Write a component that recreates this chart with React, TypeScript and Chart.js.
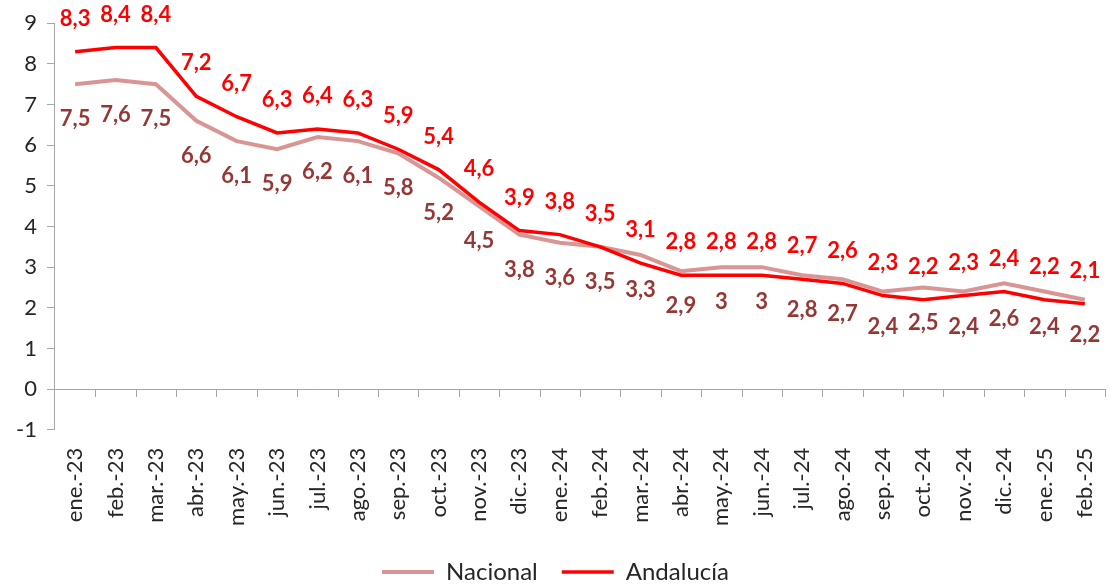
import React, { useEffect, useRef } from "react";
import { Chart, registerables } from "chart.js";

Chart.register(...registerables);

const categories = [
  "ene.-23", "feb.-23", "mar.-23", "abr.-23", "may.-23", "jun.-23", "jul.-23", "ago.-23",
  "sep.-23", "oct.-23", "nov.-23", "dic.-23", "ene.-24", "feb.-24", "mar.-24", "abr.-24",
  "may.-24", "jun.-24", "jul.-24", "ago.-24", "sep.-24", "oct.-24", "nov.-24", "dic.-24",
  "ene.-25", "feb.-25",
];

const nacional = [7.5, 7.6, 7.5, 6.6, 6.1, 5.9, 6.2, 6.1, 5.8, 5.2, 4.5, 3.8, 3.6, 3.5, 3.3, 2.9, 3, 3, 2.8, 2.7, 2.4, 2.5, 2.4, 2.6, 2.4, 2.2];
const andalucia = [8.3, 8.4, 8.4, 7.2, 6.7, 6.3, 6.4, 6.3, 5.9, 5.4, 4.6, 3.9, 3.8, 3.5, 3.1, 2.8, 2.8, 2.8, 2.7, 2.6, 2.3, 2.2, 2.3, 2.4, 2.2, 2.1];

const yTicks = [-1, 0, 1, 2, 3, 4, 5, 6, 7, 8, 9];

const FONT = "Lato, 'Open Sans', sans-serif";
const AXIS_GRAY = "#a6a6a6";
const TEXT = "#262626";

const labelPlugin = {
  id: "valueLabels",
  afterDatasetsDraw(chart: any) {
    const ctx = chart.ctx;
    ctx.save();
    ctx.font = `bold 22px ${FONT}`;
    ctx.textAlign = "center";
    ctx.textBaseline = "middle";
    chart.data.datasets.forEach((ds: any, di: number) => {
      const meta = chart.getDatasetMeta(di);
      const above = ds.labelPos === "above";
      ctx.fillStyle = ds.labelColor;
      meta.data.forEach((pt: any, i: number) => {
        const txt = String(ds.data[i]).replace(".", ",");
        ctx.fillText(txt, pt.x, pt.y + (above ? -33 : 35));
      });
    });
    ctx.restore();
  },
};

const zeroTicksPlugin = {
  id: "zeroTicks",
  afterDraw(chart: any) {
    const xs = chart.scales.x;
    const ys = chart.scales.y;
    const y0 = Math.round(ys.getPixelForValue(0));
    const ctx = chart.ctx;
    ctx.save();
    ctx.strokeStyle = AXIS_GRAY;
    ctx.lineWidth = 1;
    for (let i = 1; i <= categories.length; i++) {
      const x = Math.round(xs.getPixelForValue(i - 0.5)) + 0.5;
      ctx.beginPath();
      ctx.moveTo(x, y0);
      ctx.lineTo(x, y0 + 8);
      ctx.stroke();
    }
    ctx.restore();
  },
};

export default function App() {
  const ref = useRef<HTMLCanvasElement>(null);

  useEffect(() => {
    if (!ref.current) return;
    const chart = new Chart(ref.current, {
      type: "line",
      data: {
        labels: categories,
        datasets: [
          {
            label: "Nacional",
            data: nacional,
            borderColor: "#d99594",
            backgroundColor: "#d99594",
            borderWidth: 4,
            pointRadius: 0,
            tension: 0,
            order: 1,
            labelColor: "#953735",
            labelPos: "below",
          } as any,
          {
            label: "Andalucía",
            data: andalucia,
            borderColor: "#ff0000",
            backgroundColor: "#ff0000",
            borderWidth: 3.5,
            pointRadius: 0,
            tension: 0,
            order: 0,
            labelColor: "#ff0000",
            labelPos: "above",
          } as any,
        ],
      },
      options: {
        animation: false,
        responsive: true,
        maintainAspectRatio: false,
        layout: { padding: { top: 17, left: 6, right: 5, bottom: -10 } },
        plugins: {
          tooltip: { enabled: false },
          legend: {
            position: "bottom",
            labels: {
              usePointStyle: true,
              pointStyle: "line",
              pointStyleWidth: 52,
              padding: 24,
              color: TEXT,
              font: { family: FONT, size: 24 },
              sort: (a: any, b: any) => a.datasetIndex - b.datasetIndex,
            },
          },
        },
        scales: {
          x: {
            offset: true,
            border: { display: false },
            grid: { display: false },
            afterFit: (axis: any) => {
              axis.paddingRight = 0;
              axis.paddingLeft = 0;
            },
            ticks: {
              minRotation: 90,
              maxRotation: 90,
              autoSkip: false,
              padding: 10,
              color: TEXT,
              font: { family: FONT, size: 22 },
            },
          },
          y: {
            min: -1,
            max: 9,
            afterBuildTicks: (axis: any) => {
              axis.ticks = yTicks.map((v) => ({ value: v }));
            },
            border: { display: true, color: AXIS_GRAY, width: 1 },
            grid: {
              color: (c: any) => (c.tick && c.tick.value === 0 ? AXIS_GRAY : "rgba(0,0,0,0)"),
              tickColor: AXIS_GRAY,
              tickLength: 8,
              drawOnChartArea: true,
            },
            ticks: {
              padding: 10,
              color: TEXT,
              font: { family: FONT, size: 22 },
            },
          },
        },
      },
      plugins: [labelPlugin, zeroTicksPlugin],
    });
    return () => chart.destroy();
  }, []);

  return (
    <div style={{ position: "absolute", left: 0, top: 0, width: 1110, height: 584 }}>
      <canvas ref={ref} />
    </div>
  );
}
